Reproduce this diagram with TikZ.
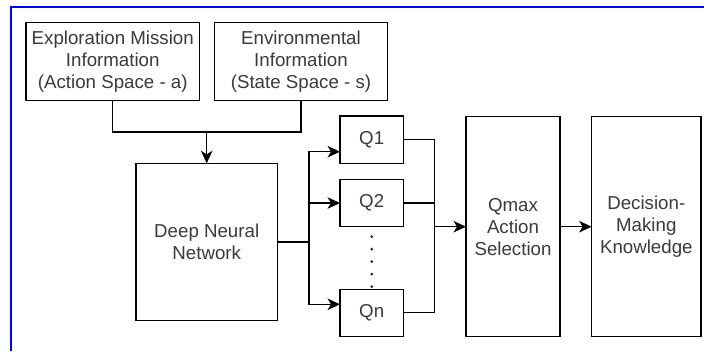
\documentclass[tikz,border=0pt]{standalone}
\usepackage{fontspec}
\setmainfont{Liberation Sans}
\usetikzlibrary{arrows.meta}
\definecolor{txt}{HTML}{3A3A3A}
\tikzset{
  box/.style={draw=black, line width=1.4pt, fill=white, align=center, inner sep=0pt, outer sep=0pt,
    text=txt, font=\fontsize{18.7}{22}\selectfont},
  conn/.style={draw=black, line width=1.4pt},
  arr/.style={conn, -{Stealth[length=12.5pt,width=11.5pt,inset=3.5pt]}},
}
\begin{document}
\begin{tikzpicture}[x=1pt,y=-1pt]
\useasboundingbox (0,0) rectangle (704,351);
\draw[blue, line width=1.6pt] (11,351) -- (11,7) -- (704,7);
\node[box, minimum width=173.5pt, minimum height=78pt] (explo) at (112.75,61.7)
  {Exploration Mission\\Information\\(Action Space - a)};
\node[box, minimum width=172.6pt, minimum height=78pt] (env) at (301,61.7)
  {Environmental\\Information\\(State Space - s)};
\node[box, minimum width=141.3pt, minimum height=157.4pt] (dnn) at (206.7,242)
  {Deep Neural\\Network};
\node[box, minimum width=63.3pt, minimum height=47.3pt] (q1) at (371.7,139.7) {Q1};
\node[box, minimum width=63.3pt, minimum height=47.3pt] (q2) at (371.7,203) {Q2};
\node[box, minimum width=63.3pt, minimum height=47.3pt] (qn) at (371.7,313) {Qn};
\node[box, minimum width=94pt, minimum height=220pt] (qmax) at (513,226.7)
  {Qmax\\Action\\Selection};
\node[box, minimum width=109.3pt, minimum height=220pt] (dec) at (646.3,226.7)
  {Decision-\\Making\\Knowledge};
% inputs to DNN
\coordinate (jn) at (206.7,132);
\draw[conn] (explo.south) |- (jn) -| (env.south);
\draw[arr] (jn) -- (dnn.north);
% DNN to Q's
\coordinate (split) at (309,242);
\draw[conn] (dnn.east) -- (split);
\draw[arr] (split) |- ([yshift=-12pt]q1.west);
\draw[arr] (split) |- (q2.west);
\draw[arr] (split) |- ([yshift=8.7pt]qn.west);
% dots
\draw[line width=3pt, line cap=round, dash pattern=on 0pt off 12.5pt, black!85] (371.7,236.7) -- (371.7,288);
% merge
\coordinate (merge) at (434.3,226.7);
\draw[conn] (q1.east) -| (merge);
\draw[conn] (q2.east) -| (merge);
\draw[conn] ([yshift=0.7pt]qn.east) -| (merge);
\draw[arr] (merge) -- (qmax.west);
\draw[arr] (qmax.east) -- (dec.west);
\end{tikzpicture}
\end{document}
